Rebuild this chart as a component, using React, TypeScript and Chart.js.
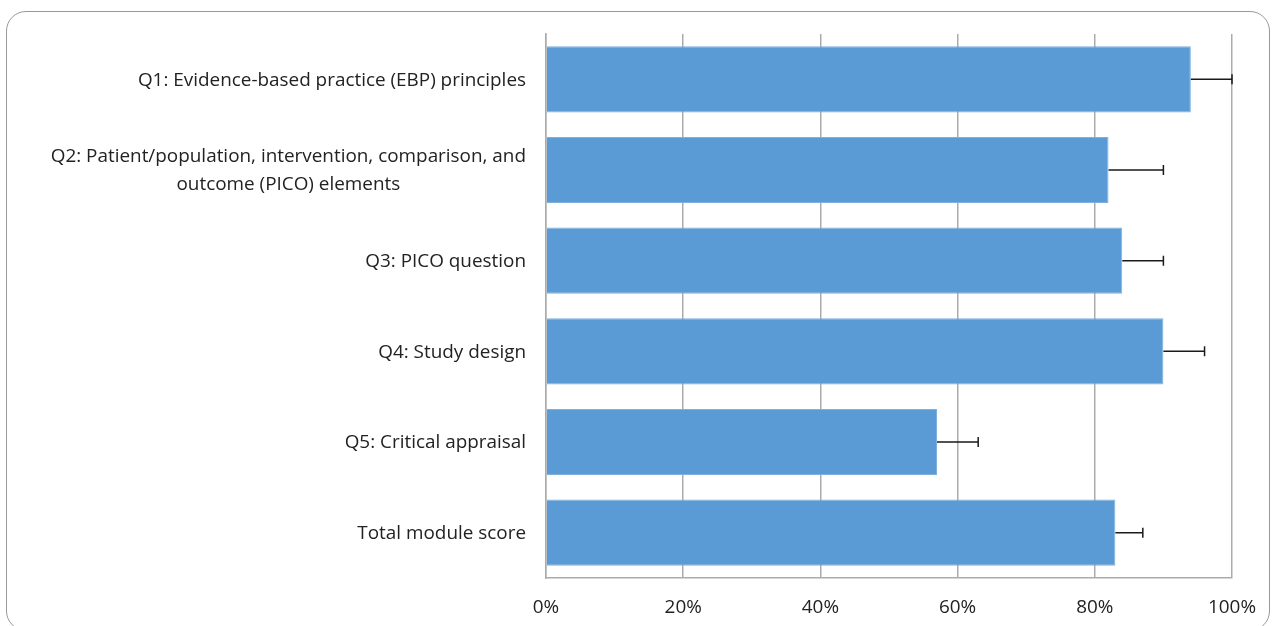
import React, { useEffect, useRef } from "react";
import { Chart, registerables } from "chart.js";

Chart.register(...registerables);

const categories: string[][] = [
  ["Q1: Evidence-based practice (EBP) principles"],
  ["Q2: Patient/population, intervention, comparison, and", "outcome (PICO) elements"],
  ["Q3: PICO question"],
  ["Q4: Study design"],
  ["Q5: Critical appraisal"],
  ["Total module score"],
];
const scores: number[] = [94, 82, 84, 90, 57, 83];
const errorPlus: number[] = [6, 8, 6, 6, 6, 4];
const xTicks: number[] = [0, 20, 40, 60, 80, 100];

const FONT = "'Open Sans', Lato, sans-serif";
const FONT_SIZE = 18.9;
const TEXT_COLOR = "#222222";
const GRID_COLOR = "#ABABAB";

const errorBarPlugin = {
  id: "errorBars",
  afterDatasetsDraw(chart: any) {
    const meta = chart.getDatasetMeta(0);
    const xs = chart.scales.x;
    const ctx = chart.ctx;
    ctx.save();
    ctx.strokeStyle = "#1a1a1a";
    ctx.lineWidth = 1.5;
    meta.data.forEach((bar: any, i: number) => {
      const x0 = xs.getPixelForValue(scores[i]);
      const x1 = xs.getPixelForValue(scores[i] + errorPlus[i]);
      const y = bar.y;
      ctx.beginPath();
      ctx.moveTo(x0, y);
      ctx.lineTo(x1, y);
      ctx.moveTo(x1, y - 5);
      ctx.lineTo(x1, y + 5);
      ctx.stroke();
    });
    ctx.restore();
  },
};

const yLabelPlugin = {
  id: "yLabels",
  afterDraw(chart: any) {
    const ys = chart.scales.y;
    const ctx = chart.ctx;
    const rightEdge = chart.chartArea.left - 20;
    const lineH = 28;
    ctx.save();
    ctx.font = `${FONT_SIZE}px ${FONT}`;
    ctx.fillStyle = TEXT_COLOR;
    ctx.textBaseline = "middle";
    categories.forEach((lines, i) => {
      const yc = ys.getPixelForValue(i);
      const widths = lines.map((l) => ctx.measureText(l).width);
      const widest = Math.max(...widths);
      const center = rightEdge - widest / 2;
      ctx.textAlign = "center";
      lines.forEach((l, j) => {
        const y = yc + 1 + (j - (lines.length - 1) / 2) * lineH;
        ctx.fillText(l, center, y);
      });
    });
    ctx.restore();
  },
};

export default function App() {
  const ref = useRef<HTMLCanvasElement | null>(null);

  useEffect(() => {
    document.body.style.margin = "0";
    if (!ref.current) return;
    const chart = new Chart(ref.current, {
      type: "bar",
      data: {
        labels: categories.map((c) => c.join(" ")),
        datasets: [
          {
            data: scores,
            backgroundColor: "#5B9BD5",
            borderColor: "#7FB0E0",
            borderWidth: 1,
            barPercentage: 0.73,
            categoryPercentage: 1,
          },
        ],
      },
      options: {
        indexAxis: "y",
        animation: false,
        responsive: false,
        devicePixelRatio: 1,
        layout: { padding: { left: 0, right: 40, top: 34, bottom: 0 } },
        plugins: {
          legend: { display: false },
          tooltip: { enabled: false },
        },
        scales: {
          x: {
            min: 0,
            max: 100,
            afterBuildTicks(scale: any) {
              scale.ticks = xTicks.map((v) => ({ value: v }));
            },
            afterFit(scale: any) {
              scale.height = 48;
              scale.paddingRight = 0;
              scale.paddingLeft = 0;
            },
            grid: {
              color: GRID_COLOR,
              lineWidth: 1.5,
              drawTicks: false,
            },
            border: { color: GRID_COLOR, width: 1.5 },
            ticks: {
              padding: 18,
              color: TEXT_COLOR,
              font: { family: FONT, size: FONT_SIZE },
              callback: (v: any) => `${v}%`,
            },
          },
          y: {
            afterFit(scale: any) {
              scale.width = 546;
            },
            grid: { display: false, drawTicks: false },
            border: { color: GRID_COLOR, width: 1.5 },
            ticks: { display: false },
          },
        },
      },
      plugins: [errorBarPlugin, yLabelPlugin],
    });
    return () => chart.destroy();
  }, []);

  return (
    <div
      style={{
        position: "absolute",
        left: 0,
        top: 0,
        width: 1272,
        height: 626,
        overflow: "hidden",
        background: "#ffffff",
      }}
    >
      <div
        style={{
          position: "absolute",
          left: 6,
          top: 11,
          width: 1264,
          height: 620,
          border: "1.5px solid #999999",
          borderRadius: 20,
          boxSizing: "border-box",
        }}
      />
      <canvas
        ref={ref}
        width={1272}
        height={626}
        style={{ position: "absolute", left: 0, top: 0, width: 1272, height: 626 }}
      />
    </div>
  );
}
